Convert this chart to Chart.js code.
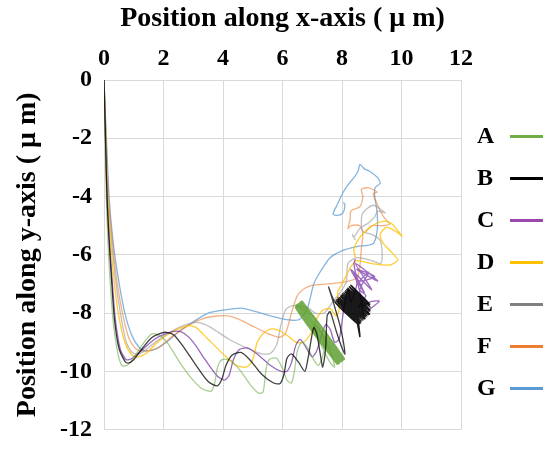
<!DOCTYPE html>
<html>
<head>
<meta charset="utf-8">
<script src="https://cdn.jsdelivr.net/npm/chart.js@4"></script>
<style>
  body { margin: 0; background: #fff; }
  #wrap { position: relative; width: 543px; height: 456px; overflow: hidden; }
  #legend { position: absolute; left: 0; top: 0; }
  .item { position: absolute; left: 477px; font: bold 24px "Liberation Serif", serif; color: #000; }
  .item span { position: absolute; left: 33px; top: 13px; width: 50px; height: 3px; }
</style>
</head>
<body>
<div id="wrap">
  <canvas id="chart" width="543" height="456"></canvas>
  <div id="legend"></div>
</div>
<script>
const seriesNames = ['A', 'B', 'C', 'D', 'E', 'F', 'G'];
const xTicks = [0, 2, 4, 6, 8, 10, 12];
const yTicks = [0, -2, -4, -6, -8, -10, -12];

// A: thin trajectory, then the dense band it sweeps at the end
const pathA = [[0,0],[0.04,-2],[0.08,-4],[0.13,-5.5],[0.2,-6.8],[0.3,-8.2],[0.45,-9.3],[0.6,-9.8],[0.8,-9.78],[1.05,-9.45],[1.35,-9.0],[1.6,-8.72],[1.85,-8.75],[2.15,-9.05],[2.55,-9.7],[2.95,-10.25],[3.3,-10.6],[3.6,-10.68],[3.72,-10.4],[3.82,-9.85],[3.97,-9.6],[4.25,-9.62],[4.6,-10.0],[4.95,-10.5],[5.2,-10.75],[5.35,-10.7],[5.45,-9.9],[5.55,-9.6],[5.8,-9.55],[6.0,-9.9],[6.15,-10.3],[6.3,-10.4],[6.4,-10.0],[6.5,-9.3],[6.65,-9.0],[6.85,-9.2],[7.05,-9.6],[7.2,-9.8],[7.35,-9.5],[7.4,-9.0],[7.25,-8.6],[7.05,-8.4],[7.3,-9.1],[7.6,-9.7],[7.75,-9.85],[7.6,-9.3],[7.3,-8.6],[6.9,-8.0]];
const bandA = [[6.44,-7.78],[7.84,-9.73],[7.9,-9.69],[6.5,-7.74],[6.55,-7.7],[7.95,-9.65],[8.0,-9.61],[6.6,-7.66],[6.66,-7.62],[8.06,-9.57],[7.97,-9.6],[6.53,-7.72],[6.47,-7.76],[7.87,-9.7]];

// B: trajectory, then the dense scribble near (8.4, -7.7)
const pathB = [[0,0],[0.05,-2],[0.1,-4],[0.17,-5.5],[0.25,-6.8],[0.35,-8.2],[0.5,-9.2],[0.7,-9.65],[0.8,-9.72],[1.0,-9.6],[1.3,-9.2],[1.6,-8.85],[1.9,-8.7],[2.1,-8.66],[2.35,-8.75],[2.7,-9.2],[3.1,-9.8],[3.5,-10.35],[3.8,-10.5],[3.95,-10.3],[4.1,-9.8],[4.3,-9.45],[4.6,-9.35],[4.9,-9.6],[5.3,-10.1],[5.7,-10.4],[5.92,-10.42],[6.05,-10.1],[6.15,-9.55],[6.3,-9.4],[6.55,-9.7],[6.75,-10.0],[6.85,-9.6],[6.95,-9.0],[7.05,-8.5],[7.15,-8.7],[7.3,-9.6],[7.35,-9.85],[7.45,-9.2],[7.5,-8.1],[7.6,-7.95],[7.8,-8.6],[8.0,-9.2],[8.1,-9.4],[7.95,-8.5],[7.7,-7.6],[7.55,-7.1]];
const blobB = [[7.75,-7.6],[8.55,-8.4],[7.79,-7.56],[8.59,-8.36],[7.83,-7.53],[8.63,-8.33],[7.86,-7.49],[8.66,-8.29],[7.9,-7.45],[8.7,-8.25],[7.94,-7.41],[8.74,-8.21],[7.98,-7.38],[8.78,-8.18],[8.01,-7.34],[8.81,-8.14],[8.05,-7.3],[8.85,-8.1],[8.09,-7.26],[8.89,-8.06],[8.13,-7.23],[8.93,-8.03],[8.16,-7.19],[8.94,-7.95],[8.2,-7.15],[8.95,-7.9],[8.25,-7.1],[8.95,-7.8],[8.3,-7.05],[8.93,-7.7],[8.4,-7.3],[8.6,-8.8],[8.5,-8.0],[8.3,-7.6]];

const pathC = [[0,0],[0.05,-2],[0.1,-4],[0.18,-5.5],[0.27,-6.8],[0.38,-8.2],[0.55,-9.25],[0.75,-9.6],[0.95,-9.55],[1.3,-9.25],[1.7,-8.9],[2.1,-8.7],[2.45,-8.62],[2.7,-8.7],[3.0,-9.0],[3.4,-9.6],[3.8,-10.15],[4.05,-10.3],[4.2,-10.15],[4.35,-9.6],[4.55,-9.25],[4.85,-9.2],[5.2,-9.45],[5.6,-9.8],[5.95,-10.0],[6.15,-10.0],[6.3,-9.7],[6.45,-9.1],[6.6,-8.9],[6.8,-9.2],[7.0,-9.5],[7.15,-9.3],[7.3,-8.8],[7.45,-8.4],[7.6,-8.55],[7.75,-9.0],[7.9,-8.9],[8.0,-8.3],[8.1,-7.6],[8.2,-7.2],
  [8.3,-7.6],[8.5,-7.0],[8.4,-6.6],[8.75,-7.3],[8.3,-6.5],[9.0,-7.2],[8.45,-6.3],[9.2,-6.9],[8.5,-6.5],[9.1,-6.75],[8.6,-6.9],[8.9,-6.6],[8.6,-7.2],[8.8,-7.4],[8.55,-7.8],[9.0,-7.6],[9.25,-7.6],[8.9,-7.9],[8.75,-8.1],[8.6,-7.3],[8.4,-6.3],[8.45,-6.15]];

const pathD = [[0,0],[0.06,-2],[0.12,-4],[0.22,-5.5],[0.33,-6.8],[0.48,-8.0],[0.7,-9.0],[0.95,-9.45],[1.15,-9.5],[1.4,-9.4],[1.8,-9.0],[2.2,-8.7],[2.6,-8.5],[2.85,-8.43],[3.1,-8.5],[3.5,-8.9],[4.0,-9.4],[4.45,-9.8],[4.8,-9.85],[5.0,-9.6],[5.15,-9.0],[5.35,-8.7],[5.6,-8.55],[5.9,-8.6],[6.2,-8.8],[6.45,-9.0],[6.7,-9.0],[6.95,-8.7],[7.15,-8.2],[7.35,-7.9],[7.6,-7.85],[7.8,-8.1],[7.9,-7.9],[7.85,-7.3],[8.0,-7.0],[8.2,-6.6],[8.3,-6.4],[8.5,-6.2],[9.0,-6.3],[9.6,-6.35],[9.88,-6.18],[9.7,-5.95],[9.38,-5.6],[9.28,-5.3],[9.5,-5.06],[9.85,-5.22],[10.02,-5.36],[9.7,-4.96],[9.5,-4.85],[9.2,-4.9],[8.9,-5.1],[8.6,-5.4],[8.4,-5.8],[8.45,-6.1]];

const pathE = [[0,0],[0.06,-2],[0.13,-4],[0.25,-5.5],[0.38,-6.8],[0.55,-8.0],[0.75,-9.0],[0.95,-9.35],[1.2,-9.4],[1.6,-9.1],[2.0,-8.8],[2.5,-8.5],[2.9,-8.35],[3.2,-8.33],[3.6,-8.5],[4.2,-8.9],[4.8,-9.2],[5.3,-9.4],[5.6,-9.38],[5.8,-9.1],[5.95,-8.4],[6.1,-7.9],[6.3,-7.75],[6.6,-7.75],[6.9,-7.85],[7.1,-8.0],[7.4,-8.0],[7.7,-7.6],[8.0,-7.2],[8.15,-6.9],[8.2,-6.3],[8.5,-6.1],[9.0,-6.2],[9.3,-6.3],[9.35,-5.95],[9.28,-5.5],[9.0,-5.3],[8.7,-5.2],[8.65,-4.85],[8.7,-4.56],[9.04,-4.3],[9.45,-4.56],[9.2,-4.5],[9.1,-4.7],[8.9,-4.9],[8.6,-5.1],[8.4,-5.4],[8.35,-5.3],[8.45,-5.5]];

const pathF = [[0,0],[0.07,-2],[0.15,-4],[0.28,-5.5],[0.42,-6.8],[0.62,-8.0],[0.85,-8.9],[1.1,-9.25],[1.4,-9.3],[1.8,-9.2],[2.3,-8.8],[2.8,-8.45],[3.3,-8.2],[3.8,-8.1],[4.15,-8.1],[4.5,-8.2],[5.0,-8.45],[5.5,-8.7],[5.9,-8.83],[6.1,-8.7],[6.3,-8.0],[6.5,-7.4],[6.75,-7.15],[7.0,-7.05],[7.5,-7.0],[8.0,-6.95],[8.5,-6.8],[8.6,-6.4],[8.65,-5.8],[8.7,-5.3],[8.6,-5.0],[8.3,-5.0],[8.2,-5.1],[8.27,-4.8],[8.3,-4.5],[8.6,-4.35],[8.7,-4.0],[8.65,-3.75],[8.9,-3.7],[9.18,-3.85],[9.05,-3.9],[9.2,-4.3],[9.4,-4.7],[9.6,-4.95],[9.3,-5.0],[9.0,-5.0],[8.8,-5.2]];

const pathG = [[0,0],[0.08,-2],[0.17,-4],[0.3,-5.5],[0.48,-6.8],[0.7,-8.0],[0.95,-8.8],[1.2,-9.2],[1.4,-9.3],[1.7,-9.25],[2.1,-9.0],[2.5,-8.65],[3.0,-8.3],[3.5,-8.0],[4.0,-7.9],[4.6,-7.83],[5.1,-7.95],[5.6,-8.1],[6.0,-8.2],[6.4,-8.25],[6.6,-8.2],[6.85,-7.8],[7.05,-7.0],[7.26,-6.6],[7.6,-6.1],[8.03,-5.85],[8.5,-5.72],[9.04,-5.62],[9.18,-5.19],[9.18,-4.53],[9.1,-4.0],[9.11,-3.7],[9.28,-3.55],[9.21,-3.37],[8.94,-3.14],[8.75,-3.05],[8.6,-2.9],[8.55,-3.1],[8.44,-3.3],[8.2,-3.6],[8.03,-3.87],[7.83,-4.3],[7.7,-4.6],[7.85,-4.65],[8.03,-4.56],[8.1,-4.3],[8.05,-4.2]];

const paths = [pathA.concat(bandA), pathB.concat(blobB), pathC, pathD, pathE, pathF, pathG];
const denseFrom = [pathA.length, pathB.length, Infinity, Infinity, Infinity, Infinity, Infinity];

// line colour in the plot (faded) and in the legend (solid)
const lineColors = ['rgba(112,173,71,0.6)', 'rgba(0,0,0,0.75)', 'rgba(120,55,170,0.75)', 'rgba(255,192,0,0.8)', 'rgba(150,150,150,0.6)', 'rgba(237,125,49,0.6)', 'rgba(91,155,213,0.75)'];
const denseColors = ['rgba(95,160,50,0.85)', 'rgba(0,0,0,0.9)'];
const denseWidths = [2.5, 1.6];
const legendColors = ['#70ad47', '#000000', '#9a48aa', '#ffc000', '#808080', '#ed7d31', '#5b9bd5'];
const drawOrder = [2, 1, 3, 4, 5, 6, 7];

const serif = '"Liberation Serif", "Times New Roman", serif';

const datasets = paths.map((p, i) => ({
    label: seriesNames[i],
    data: p.map(([x, y]) => ({ x: x, y: y })),
    showLine: true,
    borderColor: lineColors[i],
    borderWidth: 1.3,
    pointRadius: 0,
    tension: 0.25,
    order: drawOrder[i],
    segment: {
        borderWidth: ctx => ctx.p0DataIndex >= denseFrom[i] ? denseWidths[i] : 1.3,
        borderColor: ctx => ctx.p0DataIndex >= denseFrom[i] ? denseColors[i] : lineColors[i]
    }
}));

new Chart(document.getElementById('chart').getContext('2d'), {
    type: 'scatter',
    data: { datasets: datasets },
    options: {
        responsive: false,
        animation: false,
        devicePixelRatio: 1,
        layout: { padding: { left: 0, right: 82, top: 0, bottom: 13 } },
        plugins: { legend: { display: false }, tooltip: { enabled: false } },
        scales: {
            x: {
                type: 'linear',
                position: 'top',
                min: 0, max: 12,
                afterBuildTicks: axis => { axis.ticks = xTicks.map(v => ({ value: v })); },
                afterFit: axis => { axis.height = 80; },
                ticks: { color: '#000', padding: 7, font: { family: serif, size: 24, weight: 'bold' } },
                grid: { color: '#d9d9d9', drawTicks: false },
                border: { color: '#d9d9d9' },
                title: {
                    display: true,
                    text: 'Position along x-axis ( μ m)',
                    color: '#000',
                    padding: { top: 2, bottom: 0 },
                    font: { family: serif, size: 28, weight: 'bold' }
                }
            },
            y: {
                type: 'linear',
                min: -12, max: 0,
                afterBuildTicks: axis => { axis.ticks = yTicks.map(v => ({ value: v })); },
                afterFit: axis => { axis.width = 104; },
                ticks: { color: '#000', padding: 12, font: { family: serif, size: 24, weight: 'bold' } },
                grid: { color: '#d9d9d9', drawTicks: false },
                border: { color: '#d9d9d9' },
                title: {
                    display: true,
                    text: 'Position along y-axis ( μ m)',
                    color: '#000',
                    padding: { top: 11, bottom: 0 },
                    font: { family: serif, size: 28, weight: 'bold' }
                }
            }
        }
    }
});

const legendTops = [122, 164, 206, 248, 290, 332, 374];
const legend = document.getElementById('legend');
seriesNames.forEach((name, i) => {
    const d = document.createElement('div');
    d.className = 'item';
    d.style.top = legendTops[i] + 'px';
    d.textContent = name;
    const s = document.createElement('span');
    s.style.background = legendColors[i];
    d.appendChild(s);
    legend.appendChild(d);
});
</script>
</body>
</html>
